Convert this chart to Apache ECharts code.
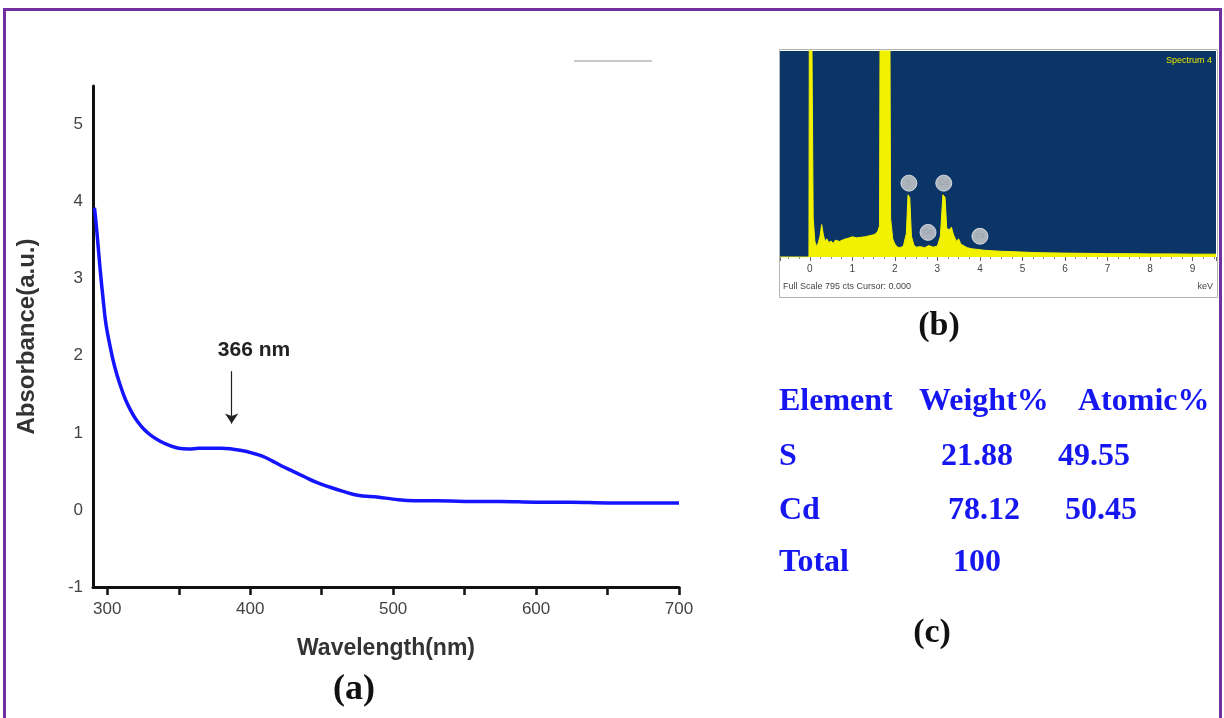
<!DOCTYPE html>
<html><head><meta charset="utf-8">
<script src="https://cdn.jsdelivr.net/npm/echarts@6/dist/echarts.min.js"></script>
<style>html,body{margin:0;padding:0;background:#fff}#c{width:1224px;height:718px}</style>
</head><body><div id="c"></div>
<script>
// ---- Panel (a): UV-Vis absorbance ----
const wavelength = [291,292,293,295,297,299,302,305,309,313,317,321,326,331,337,343,350,357,364,372,380,387,394,401,408,415,422,430,438,446,455,465,475,490,500,515,530,550,575,600,625,650,675,700];
const absorbance = [3.92,3.75,3.55,3.12,2.75,2.42,2.12,1.87,1.62,1.42,1.27,1.15,1.04,0.96,0.89,0.84,0.80,0.79,0.80,0.80,0.80,0.79,0.77,0.74,0.70,0.64,0.57,0.50,0.43,0.36,0.30,0.24,0.19,0.165,0.14,0.12,0.12,0.11,0.11,0.10,0.10,0.09,0.09,0.09];
const peakLabel = '366 nm';
const arrowX = 387, arrowTop = 1.8, arrowBottom = 1.12;

// ---- Panel (b): EDS spectrum ----
const spectrumKeV = [-0.7,-0.1,-0.02,0.0,0.04,0.08,0.12,0.16,0.2,0.24,0.28,0.32,0.36,0.4,0.45,0.5,0.55,0.6,0.7,0.8,0.9,1.0,1.1,1.2,1.3,1.4,1.5,1.55,1.6,1.64,1.67,1.86,1.9,1.95,2.0,2.05,2.1,2.15,2.2,2.27,2.31,2.35,2.39,2.45,2.5,2.6,2.7,2.8,2.9,3.0,3.07,3.13,3.18,3.22,3.28,3.33,3.38,3.45,3.5,3.55,3.6,3.7,3.8,3.9,4.0,4.1,4.3,4.5,4.7,5.0,5.3,5.6,6.0,6.5,7.0,7.5,8.0,8.5,9.0,9.55];
const spectrumCounts = [0,0,0,2000,2000,150,60,40,55,80,125,85,60,70,55,62,52,65,60,68,72,78,74,76,78,82,86,90,100,120,2000,2000,150,70,50,40,36,38,42,90,240,230,80,45,38,40,36,44,38,42,80,240,230,110,105,115,85,60,70,50,45,36,32,30,28,26,24,22,21,19,17,16,15,14,13,13,12,12,11,11];
const markerKeV = [2.33, 3.15, 2.78, 4.0];
const markerCounts = [285, 285, 95, 80];
const markerLabels = ['S', 'Cd', 'Cd', 'Cd'];
const spectrumTitle = 'Spectrum 4';
const spectrumFooter = 'Full Scale 795 cts Cursor: 0.000';
const spectrumUnit = 'keV';

// ---- Panel (c): composition table ----
const tableHeader = ['Element', 'Weight%', 'Atomic%'];
const tableElements = ['S', 'Cd', 'Total'];
const tableWeight = ['21.88', '78.12', '100'];
const tableAtomic = ['49.55', '50.45', ''];

const panelLabels = ['(a)', '(b)', '(c)'];

const SANS = '"Liberation Sans", Arial, sans-serif';
const SERIF = '"Liberation Serif", "Times New Roman", serif';
const BLUE = '#1616f0';

const chart = echarts.init(document.getElementById('c'), null, {renderer: 'canvas'});

const graphics = [];
function txt(x, y, text, font, fill, align, valign, z) {
  graphics.push({type: 'text', x: x, y: y, z: z || 50, silent: true,
    style: {text: text, font: font, fill: fill, align: align || 'left', verticalAlign: valign || 'middle'}});
}
// outer frame
graphics.push({type: 'rect', z: 100, silent: true, shape: {x: 4.5, y: 9.5, width: 1216, height: 730},
  style: {fill: 'none', stroke: '#7030a0', lineWidth: 3}});
// faint grey line at top
graphics.push({type: 'line', z: 10, silent: true, shape: {x1: 574, y1: 61, x2: 652, y2: 61},
  style: {stroke: '#c8c8c8', lineWidth: 2}});
// panel (b) border
graphics.push({type: 'rect', z: 10, silent: true, shape: {x: 779.5, y: 49.5, width: 438, height: 248},
  style: {fill: 'none', stroke: '#b4b4b4', lineWidth: 1}});
txt(254, 350, peakLabel, 'bold 21px ' + SANS, '#222', 'center');
txt(354, 690, panelLabels[0], 'bold 36px ' + SERIF, '#111', 'center');
txt(939, 326, panelLabels[1], 'bold 34px ' + SERIF, '#111', 'center');
txt(932, 633, panelLabels[2], 'bold 34px ' + SERIF, '#111', 'center');
txt(1212, 61, spectrumTitle, '9px ' + SANS, '#e6e600', 'right');
txt(783, 287, spectrumFooter, '9px ' + SANS, '#444', 'left');
txt(1213, 287, spectrumUnit, '9px ' + SANS, '#444', 'right');

// table
const TF = 'bold 32px ' + SERIF;
const headerX = [779, 919, 1078];
const rowY = [402, 457, 511, 563];
const weightX = [941, 948, 953];
const atomicX = [1058, 1065, 1070];
tableHeader.forEach((h, i) => txt(headerX[i], rowY[0], h, TF, BLUE, 'left'));
tableElements.forEach((e, i) => {
  txt(779, rowY[i + 1], e, TF, BLUE, 'left');
  txt(weightX[i], rowY[i + 1], tableWeight[i], TF, BLUE, 'left');
  if (tableAtomic[i]) txt(atomicX[i], rowY[i + 1], tableAtomic[i], TF, BLUE, 'left');
});

const option = {
  backgroundColor: '#ffffff',
  animation: false,
  grid: [
    {left: 93, top: 86, width: 586, height: 501},
    {left: 780, top: 51, width: 436, height: 206, show: true, backgroundColor: '#0b3566', borderWidth: 0}
  ],
  xAxis: [
    {
      type: 'value', gridIndex: 0, min: 290, max: 700, splitNumber: 8,
      axisLine: {show: true, onZero: false, lineStyle: {color: '#111', width: 3}},
      axisTick: {show: true, inside: false, length: 8, lineStyle: {color: '#111', width: 2.5}},
      axisLabel: {fontSize: 17, color: '#444', margin: 14, fontFamily: SANS, showMinLabel: false,
        formatter: v => (v % 100 === 0 ? String(v) : '')},
      splitLine: {show: false},
      name: 'Wavelength(nm)', nameLocation: 'middle', nameGap: 50,
      nameTextStyle: {fontSize: 23, fontWeight: 'bold', color: '#333', fontFamily: SANS}
    },
    {
      type: 'value', gridIndex: 1, min: -0.7, max: 9.55, splitNumber: 10,
      axisLine: {show: false},
      axisTick: {show: true, inside: false, length: 4, lineStyle: {color: '#666', width: 1}},
      minorTick: {show: true, splitNumber: 4, length: 2, lineStyle: {color: '#888', width: 1}},
      axisLabel: {fontSize: 10, color: '#444', margin: 7, fontFamily: SANS, showMinLabel: false, showMaxLabel: false},
      splitLine: {show: false}
    }
  ],
  yAxis: [
    {
      type: 'value', gridIndex: 0, min: -1, max: 5.5, interval: 1,
      axisLine: {show: true, onZero: false, lineStyle: {color: '#111', width: 3}},
      axisTick: {show: false},
      axisLabel: {fontSize: 17, color: '#444', margin: 10, fontFamily: SANS, showMaxLabel: false},
      splitLine: {show: false},
      name: 'Absorbance(a.u.)', nameLocation: 'middle', nameGap: 54, nameRotate: 90,
      nameTextStyle: {fontSize: 24, fontWeight: 'bold', color: '#333', fontFamily: SANS}
    },
    {type: 'value', gridIndex: 1, min: 0, max: 795, show: false}
  ],
  series: [
    {
      type: 'line', xAxisIndex: 0, yAxisIndex: 0, showSymbol: false, smooth: 0.4,
      data: wavelength.map((w, i) => [w, absorbance[i]]),
      lineStyle: {color: '#1414ff', width: 3.5},
      markLine: {
        silent: true, symbol: ['none', 'arrow'], symbolSize: 10,
        itemStyle: {color: '#222'},
        lineStyle: {color: '#222', width: 1.2, type: 'solid'}, label: {show: false},
        data: [[{coord: [arrowX, arrowTop], symbol: 'none'}, {coord: [arrowX, arrowBottom], symbol: 'arrow', symbolSize: 10}]]
      }
    },
    {
      type: 'line', xAxisIndex: 1, yAxisIndex: 1, showSymbol: false, clip: true,
      data: spectrumKeV.map((k, i) => [k, spectrumCounts[i]]),
      lineStyle: {color: '#f2f200', width: 1},
      areaStyle: {color: '#f2f200', opacity: 1}
    },
    {
      type: 'scatter', xAxisIndex: 1, yAxisIndex: 1, symbolSize: 16,
      data: markerKeV.map((k, i) => ({value: [k, markerCounts[i]], name: markerLabels[i]})),
      itemStyle: {color: '#d4d4d4', borderColor: '#eeeeee', borderWidth: 1},
      label: {show: true, position: 'inside', formatter: p => p.name, fontSize: 7, color: '#9a9a9a'}
    }
  ],
  graphic: graphics
};
chart.setOption(option);
</script>
</body></html>
